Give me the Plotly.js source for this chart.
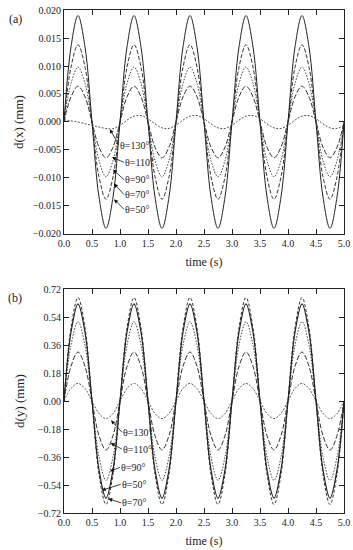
<!DOCTYPE html>
<html>
<head>
<meta charset="utf-8">
<script src="https://cdn.plot.ly/plotly-3.0.1.min.js"></script>
<style>html,body{margin:0;padding:0;background:#fff;}#chart{width:353px;height:550px;}</style>
</head>
<body>
<div id="chart"></div>
<script>
// time samples (s)
var time = [0,0.125,0.25,0.375,0.5,0.625,0.75,0.875,1,1.125,1.25,1.375,1.5,1.625,1.75,1.875,2,2.125,2.25,2.375,2.5,2.625,2.75,2.875,3,3.125,3.25,3.375,3.5,3.625,3.75,3.875,4,4.125,4.25,4.375,4.5,4.625,4.75,4.875,5];

// (a) d(x) in mm
var dx50 = [0,0.0134,0.0190,0.0134,0,-0.0134,-0.0190,-0.0134,0,0.0134,0.0190,0.0134,0,-0.0134,-0.0190,-0.0134,0,0.0134,0.0190,0.0134,0,-0.0134,-0.0190,-0.0134,0,0.0134,0.0190,0.0134,0,-0.0134,-0.0190,-0.0134,0,0.0134,0.0190,0.0134,0,-0.0134,-0.0190,-0.0134,0];
var dx70 = [0,0.0098,0.0138,0.0098,0,-0.0098,-0.0138,-0.0098,0,0.0098,0.0138,0.0098,0,-0.0098,-0.0138,-0.0098,0,0.0098,0.0138,0.0098,0,-0.0098,-0.0138,-0.0098,0,0.0098,0.0138,0.0098,0,-0.0098,-0.0138,-0.0098,0,0.0098,0.0138,0.0098,0,-0.0098,-0.0138,-0.0098,0];
var dx90 = [0,0.0069,0.0098,0.0069,0,-0.0069,-0.0098,-0.0069,0,0.0069,0.0098,0.0069,0,-0.0069,-0.0098,-0.0069,0,0.0069,0.0098,0.0069,0,-0.0069,-0.0098,-0.0069,0,0.0069,0.0098,0.0069,0,-0.0069,-0.0098,-0.0069,0,0.0069,0.0098,0.0069,0,-0.0069,-0.0098,-0.0069,0];
var dx110 = [0,0.0045,0.0064,0.0045,0,-0.0045,-0.0064,-0.0045,0,0.0045,0.0064,0.0045,0,-0.0045,-0.0064,-0.0045,0,0.0045,0.0064,0.0045,0,-0.0045,-0.0064,-0.0045,0,0.0045,0.0064,0.0045,0,-0.0045,-0.0064,-0.0045,0,0.0045,0.0064,0.0045,0,-0.0045,-0.0064,-0.0045,0];
var dx130 = [0.0004,0.0002,0.0000,-0.0003,-0.0006,-0.0009,-0.00115,-0.0012,-0.00058,0.00033,0.00105,0.00115,0.00058,-0.00033,-0.00105,-0.00115,-0.00058,0.00033,0.00105,0.00115,0.00058,-0.00033,-0.00105,-0.00115,-0.00058,0.00033,0.00105,0.00115,0.00058,-0.00033,-0.00105,-0.00115,-0.00058,0.00033,0.00105,0.00115,0.00058,-0.00033,-0.00105,-0.00115,-0.00058];

// (b) d(y) in mm
var dy70 = [0,0.470,0.665,0.470,0,-0.470,-0.665,-0.470,0,0.470,0.665,0.470,0,-0.470,-0.665,-0.470,0,0.470,0.665,0.470,0,-0.470,-0.665,-0.470,0,0.470,0.665,0.470,0,-0.470,-0.665,-0.470,0,0.470,0.665,0.470,0,-0.470,-0.665,-0.470,0];
var dy50 = [0,0.442,0.625,0.442,0,-0.442,-0.625,-0.442,0,0.442,0.625,0.442,0,-0.442,-0.625,-0.442,0,0.442,0.625,0.442,0,-0.442,-0.625,-0.442,0,0.442,0.625,0.442,0,-0.442,-0.625,-0.442,0,0.442,0.625,0.442,0,-0.442,-0.625,-0.442,0];
var dy90 = [0,0.360,0.510,0.360,0,-0.360,-0.510,-0.360,0,0.360,0.510,0.360,0,-0.360,-0.510,-0.360,0,0.360,0.510,0.360,0,-0.360,-0.510,-0.360,0,0.360,0.510,0.360,0,-0.360,-0.510,-0.360,0,0.360,0.510,0.360,0,-0.360,-0.510,-0.360,0];
var dy110 = [0,0.223,0.315,0.223,0,-0.223,-0.315,-0.223,0,0.223,0.315,0.223,0,-0.223,-0.315,-0.223,0,0.223,0.315,0.223,0,-0.223,-0.315,-0.223,0,0.223,0.315,0.223,0,-0.223,-0.315,-0.223,0,0.223,0.315,0.223,0,-0.223,-0.315,-0.223,0];
var dy130 = [0,0.080,0.113,0.080,0,-0.080,-0.113,-0.080,0,0.080,0.113,0.080,0,-0.080,-0.113,-0.080,0,0.080,0.113,0.080,0,-0.080,-0.113,-0.080,0,0.080,0.113,0.080,0,-0.080,-0.113,-0.080,0,0.080,0.113,0.080,0,-0.080,-0.113,-0.080,0];

// labels
var labelsA = ["θ=130°","θ=110°","θ=90°","θ=70°","θ=50°"];
var labelsB = ["θ=130°","θ=110°","θ=90°","θ=50°","θ=70°"];
var xTickVals = [0,0.5,1,1.5,2,2.5,3,3.5,4,4.5,5];
var yTickValsA = [-0.020,-0.015,-0.010,-0.005,0.000,0.005,0.010,0.015,0.020];
var yTickValsB = [-0.72,-0.54,-0.36,-0.18,0.00,0.18,0.36,0.54,0.72];

var FONT = "'Liberation Serif', 'Times New Roman', serif";
function tr(y, xa, ya, dash, color, w) {
  return {x: time, y: y, xaxis: xa, yaxis: ya, mode: "lines",
    line: {shape: "spline", smoothing: 1.0, dash: dash, color: color, width: w},
    hoverinfo: "skip", showlegend: false};
}
var data = [
  tr(dx130, "x", "y", "2px,1.5px", "#555", 1),
  tr(dx110, "x", "y", "5px,2px", "#333", 1),
  tr(dx90, "x", "y", "1.5px,1.5px", "#444", 1),
  tr(dx70, "x", "y", "4px,2px", "#333", 1),
  tr(dx50, "x", "y", "solid", "#222", 1),
  tr(dy130, "x2", "y2", "2px,1.5px", "#555", 1),
  tr(dy110, "x2", "y2", "5px,2px", "#333", 1),
  tr(dy90, "x2", "y2", "1.5px,1.5px", "#444", 1),
  tr(dy70, "x2", "y2", "3px,2px", "#333", 1),
  tr(dy50, "x2", "y2", "solid", "#222", 1.2)
];

var axisCommon = {showline: true, linecolor: "#222", linewidth: 1, mirror: "ticks",
  ticks: "inside", ticklen: 5, tickwidth: 1, tickcolor: "#222", showgrid: false, zeroline: false,
  tickfont: {family: FONT, size: 10, color: "#222"}};
function ax(extra) { return Object.assign({}, axisCommon, extra); }

// arrow annotations: [label, x, y, ax, ay]
var arrowsA = [
  [labelsA[0], 0.82, -0.0013, 9, 16],
  [labelsA[1], 0.857, -0.0063, 12, 5],
  [labelsA[2], 0.875, -0.0085, 11, 10],
  [labelsA[3], 0.893, -0.0110, 10, 11],
  [labelsA[4], 0.893, -0.0138, 10, 10]
];
var arrowsB = [
  [labelsB[0], 0.84, -0.124, 11, 12],
  [labelsB[1], 0.834, -0.270, 11, 6],
  [labelsB[2], 0.821, -0.452, 10, -4],
  [labelsB[3], 0.673, -0.574, 19, -6],
  [labelsB[4], 0.79, -0.629, 13, 4]
];
var annotations = [];
arrowsA.forEach(function(a){
  annotations.push({xref: "x", yref: "y", x: a[1], y: a[2], ax: a[3], ay: a[4], text: a[0],
    xanchor: "left", yanchor: "middle", showarrow: true, arrowhead: 2, arrowsize: 1, arrowwidth: 0.8,
    arrowcolor: "#111", font: {family: FONT, size: 10, color: "#222"}, borderpad: 0});
});
arrowsB.forEach(function(a){
  annotations.push({xref: "x2", yref: "y2", x: a[1], y: a[2], ax: a[3], ay: a[4], text: a[0],
    xanchor: "left", yanchor: "middle", showarrow: true, arrowhead: 2, arrowsize: 1, arrowwidth: 0.8,
    arrowcolor: "#111", font: {family: FONT, size: 10, color: "#222"}, borderpad: 0});
});
annotations.push({xref: "paper", yref: "paper", x: -0.175, y: 1.0, text: "(a)", showarrow: false,
  xanchor: "center", yanchor: "top", font: {family: FONT, size: 12, color: "#222"}});
annotations.push({xref: "paper", yref: "paper", x: -0.175, y: 0.4453, text: "(b)", showarrow: false,
  xanchor: "center", yanchor: "top", font: {family: FONT, size: 12, color: "#222"}});

var layout = {
  width: 353, height: 550,
  margin: {l: 64, r: 9, t: 10, b: 37},
  paper_bgcolor: "#fff", plot_bgcolor: "#fff",
  font: {family: FONT, color: "#222"},
  xaxis: ax({anchor: "y", range: [0, 5], tickvals: xTickVals, tickformat: ".1f",
    title: {text: "time (s)", font: {family: FONT, size: 12}, standoff: 9}}),
  yaxis: ax({domain: [0.5547, 1], anchor: "x", range: [-0.020, 0.020], tickvals: yTickValsA, tickformat: ".3f",
    title: {text: "d(x) (mm)", font: {family: FONT, size: 13}, standoff: 6}}),
  xaxis2: ax({anchor: "y2", range: [0, 5], tickvals: xTickVals, tickformat: ".1f",
    title: {text: "time (s)", font: {family: FONT, size: 12}, standoff: 9}}),
  yaxis2: ax({domain: [0, 0.4453], anchor: "x2", range: [-0.72, 0.72], tickvals: yTickValsB, tickformat: ".2f",
    title: {text: "d(y) (mm)", font: {family: FONT, size: 13}, standoff: 10}}),
  annotations: annotations
};

Plotly.newPlot("chart", data, layout, {displayModeBar: false, staticPlot: true});
</script>
</body>
</html>
